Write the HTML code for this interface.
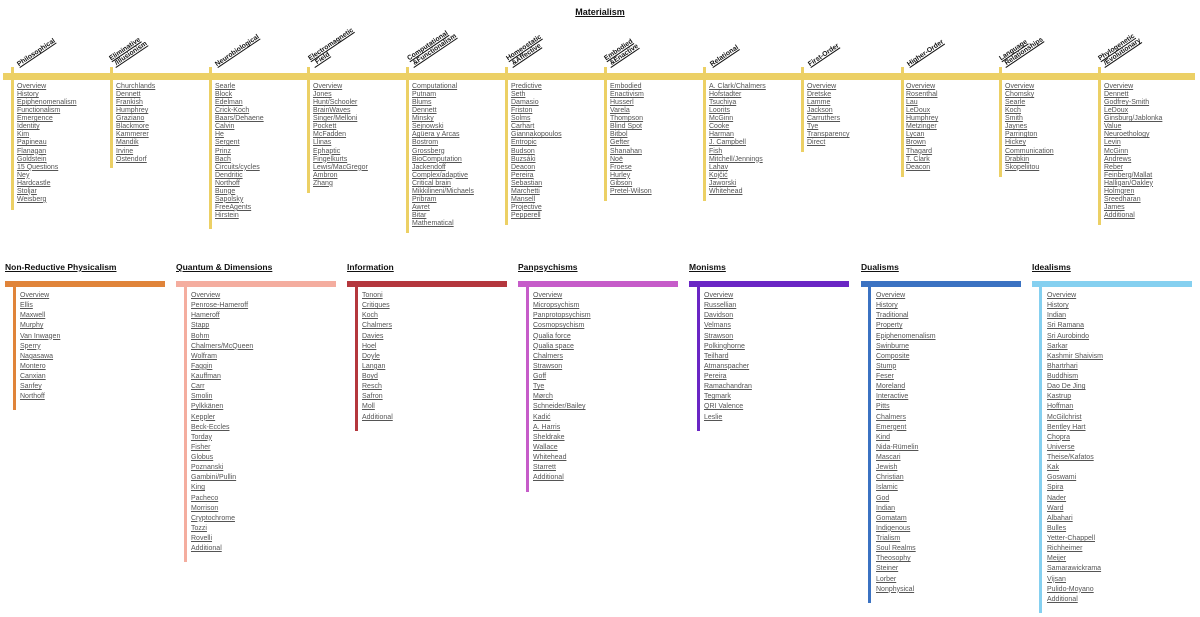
<!DOCTYPE html>
<html><head><meta charset="utf-8"><style>
body{margin:0;width:1200px;height:617px;background:#fff;position:relative;overflow:hidden;font-family:"Liberation Sans",Arial,sans-serif}
.t{position:absolute;left:0;width:1200px;top:7px;text-align:center;font-size:9px;font-weight:bold;text-decoration:underline;color:#111}
.ybar{position:absolute;left:3px;width:1192px;top:73px;height:7px;background:#ecd065}
.vl{position:absolute;width:3px}
.tl{position:absolute;margin:0;padding:0;list-style:none;font-size:7px;line-height:8.07px;color:#555;white-space:nowrap}
.tl li,.bl li{text-decoration:underline}
.bl{position:absolute;margin:0;padding:0;list-style:none;font-size:7px;line-height:10.13px;color:#555;white-space:nowrap}
.h{position:absolute;bottom:549px;transform-origin:0 100%;transform:rotate(-34deg);font-size:6.8px;line-height:7px;font-weight:bold;color:#111;text-decoration:underline;white-space:nowrap}
.bh{position:absolute;top:262px;font-size:8.5px;font-weight:bold;color:#111;text-decoration:underline;white-space:nowrap}
.bb{position:absolute;top:281px;width:160px;height:6px}
</style></head><body>
<div class="t">Materialism</div>
<div class="ybar"></div>

<div class="vl" style="left:11px;top:67px;height:143px;background:#ecd065"></div>
<div class="h" style="left:20px">Philosophical</div>
<ul class="tl" style="left:17px;top:83px"><li>Overview</li><li>History</li><li>Epiphenomenalism</li><li>Functionalism</li><li>Emergence</li><li>Identity</li><li>Kim</li><li>Papineau</li><li>Flanagan</li><li>Goldstein</li><li>15 Questions</li><li>Ney</li><li>Hardcastle</li><li>Stoljar</li><li>Weisberg</li></ul>

<div class="vl" style="left:110px;top:67px;height:101px;background:#ecd065"></div>
<div class="h" style="left:116px">Eliminative<br>&nbsp;/Illusionism</div>
<ul class="tl" style="left:116px;top:83px"><li>Churchlands</li><li>Dennett</li><li>Frankish</li><li>Humphrey</li><li>Graziano</li><li>Blackmore</li><li>Kammerer</li><li>Mandik</li><li>Irvine</li><li>Ostendorf</li></ul>

<div class="vl" style="left:209px;top:67px;height:162px;background:#ecd065"></div>
<div class="h" style="left:218px">Neurobiological</div>
<ul class="tl" style="left:215px;top:83px"><li>Searle</li><li>Block</li><li>Edelman</li><li>Crick-Koch</li><li>Baars/Dehaene</li><li>Calvin</li><li>He</li><li>Sergent</li><li>Prinz</li><li>Bach</li><li>Circuits/cycles</li><li>Dendritic</li><li>Northoff</li><li>Bunge</li><li>Sapolsky</li><li>FreeAgents</li><li>Hirstein</li></ul>

<div class="vl" style="left:307px;top:67px;height:126px;background:#ecd065"></div>
<div class="h" style="left:315px">Electromagnetic<br>&nbsp;&nbsp;Field</div>
<ul class="tl" style="left:313px;top:83px"><li>Overview</li><li>Jones</li><li>Hunt/Schooler</li><li>BrainWaves</li><li>Singer/Melloni</li><li>Pockett</li><li>McFadden</li><li>Llinas</li><li>Ephaptic</li><li>Fingelkurts</li><li>Lewis/MacGregor</li><li>Ambron</li><li>Zhang</li></ul>

<div class="vl" style="left:406px;top:67px;height:166px;background:#ecd065"></div>
<div class="h" style="left:414px">Computational<br>&nbsp;&amp;Functionalism</div>
<ul class="tl" style="left:412px;top:83px"><li>Computational</li><li>Putnam</li><li>Blums</li><li>Dennett</li><li>Minsky</li><li>Sejnowski</li><li>Agüera y Arcas</li><li>Bostrom</li><li>Grossberg</li><li>BioComputation</li><li>Jackendoff</li><li>Complex/adaptive</li><li>Critical brain</li><li>Mikkilineni/Michaels</li><li>Pribram</li><li>Awret</li><li>Bitar</li><li>Mathematical</li></ul>

<div class="vl" style="left:505px;top:67px;height:158px;background:#ecd065"></div>
<div class="h" style="left:513px">Homeostatic<br>&nbsp;&amp;Affective</div>
<ul class="tl" style="left:511px;top:83px"><li>Predictive</li><li>Seth</li><li>Damasio</li><li>Friston</li><li>Solms</li><li>Carhart</li><li>Giannakopoulos</li><li>Entropic</li><li>Budson</li><li>Buzsáki</li><li>Deacon</li><li>Pereira</li><li>Sebastian</li><li>Marchetti</li><li>Mansell</li><li>Projective</li><li>Pepperell</li></ul>

<div class="vl" style="left:604px;top:67px;height:134px;background:#ecd065"></div>
<div class="h" style="left:611px">Embodied<br>&nbsp;&amp;Enactive</div>
<ul class="tl" style="left:610px;top:83px"><li>Embodied</li><li>Enactivism</li><li>Husserl</li><li>Varela</li><li>Thompson</li><li>Blind Spot</li><li>Bitbol</li><li>Gefter</li><li>Shanahan</li><li>Noë</li><li>Froese</li><li>Hurley</li><li>Gibson</li><li>Pretel-Wilson</li></ul>

<div class="vl" style="left:703px;top:67px;height:134px;background:#ecd065"></div>
<div class="h" style="left:713px">Relational</div>
<ul class="tl" style="left:709px;top:83px"><li>A. Clark/Chalmers</li><li>Hofstadter</li><li>Tsuchiya</li><li>Loorits</li><li>McGinn</li><li>Cooke</li><li>Harman</li><li>J. Campbell</li><li>Fish</li><li>Mitchell/Jennings</li><li>Lahav</li><li>Kojčić</li><li>Jaworski</li><li>Whitehead</li></ul>

<div class="vl" style="left:801px;top:67px;height:85px;background:#ecd065"></div>
<div class="h" style="left:811px">First-Order</div>
<ul class="tl" style="left:807px;top:83px"><li>Overview</li><li>Dretske</li><li>Lamme</li><li>Jackson</li><li>Carruthers</li><li>Tye</li><li>Transparency</li><li>Direct</li></ul>

<div class="vl" style="left:901px;top:67px;height:110px;background:#ecd065"></div>
<div class="h" style="left:910px">Higher-Order</div>
<ul class="tl" style="left:906px;top:83px"><li>Overview</li><li>Rosenthal</li><li>Lau</li><li>LeDoux</li><li>Humphrey</li><li>Metzinger</li><li>Lycan</li><li>Brown</li><li>Thagard</li><li>T. Clark</li><li>Deacon</li></ul>

<div class="vl" style="left:999px;top:67px;height:110px;background:#ecd065"></div>
<div class="h" style="left:1006px">Language<br>&nbsp;Relationships</div>
<ul class="tl" style="left:1005px;top:83px"><li>Overview</li><li>Chomsky</li><li>Searle</li><li>Koch</li><li>Smith</li><li>Jaynes</li><li>Parrington</li><li>Hickey</li><li>Communication</li><li>Drabkin</li><li>Skopeliitou</li></ul>

<div class="vl" style="left:1098px;top:67px;height:158px;background:#ecd065"></div>
<div class="h" style="left:1105px">Phylogenetic<br>&nbsp;/Evolutionary</div>
<ul class="tl" style="left:1104px;top:83px"><li>Overview</li><li>Dennett</li><li>Godfrey-Smith</li><li>LeDoux</li><li>Ginsburg/Jablonka</li><li>Value</li><li>Neuroethology</li><li>Levin</li><li>McGinn</li><li>Andrews</li><li>Reber</li><li>Feinberg/Mallat</li><li>Halligan/Oakley</li><li>Holmgren</li><li>Sreedharan</li><li>James</li><li>Additional</li></ul>

<div class="bh" style="left:5px">Non-Reductive Physicalism</div>
<div class="bb" style="left:5px;background:#e0843a"></div>
<div class="vl" style="left:13px;top:287px;height:123px;background:#e0843a"></div>
<ul class="bl" style="left:20px;top:291px"><li>Overview</li><li>Ellis</li><li>Maxwell</li><li>Murphy</li><li>Van Inwagen</li><li>Sperry</li><li>Nagasawa</li><li>Montero</li><li>Canxian</li><li>Sanfey</li><li>Northoff</li></ul>

<div class="bh" style="left:176px">Quantum &amp; Dimensions</div>
<div class="bb" style="left:176px;background:#f4ad9f"></div>
<div class="vl" style="left:184px;top:287px;height:275px;background:#f4ad9f"></div>
<ul class="bl" style="left:191px;top:291px"><li>Overview</li><li>Penrose-Hameroff</li><li>Hameroff</li><li>Stapp</li><li>Bohm</li><li>Chalmers/McQueen</li><li>Wolfram</li><li>Faggin</li><li>Kauffman</li><li>Carr</li><li>Smolin</li><li>Pylkkänen</li><li>Keppler</li><li>Beck-Eccles</li><li>Torday</li><li>Fisher</li><li>Globus</li><li>Poznanski</li><li>Gambini/Pullin</li><li>King</li><li>Pacheco</li><li>Morrison</li><li>Cryptochrome</li><li>Tozzi</li><li>Rovelli</li><li>Additional</li></ul>

<div class="bh" style="left:347px">Information</div>
<div class="bb" style="left:347px;background:#b4373d"></div>
<div class="vl" style="left:355px;top:287px;height:144px;background:#b4373d"></div>
<ul class="bl" style="left:362px;top:291px"><li>Tononi</li><li>Critiques</li><li>Koch</li><li>Chalmers</li><li>Davies</li><li>Hoel</li><li>Doyle</li><li>Langan</li><li>Boyd</li><li>Resch</li><li>Safron</li><li>Moll</li><li>Additional</li></ul>

<div class="bh" style="left:518px">Panpsychisms</div>
<div class="bb" style="left:518px;background:#c65cc9"></div>
<div class="vl" style="left:526px;top:287px;height:205px;background:#c65cc9"></div>
<ul class="bl" style="left:533px;top:291px"><li>Overview</li><li>Micropsychism</li><li>Panprotopsychism</li><li>Cosmopsychism</li><li>Qualia force</li><li>Qualia space</li><li>Chalmers</li><li>Strawson</li><li>Goff</li><li>Tye</li><li>Mørch</li><li>Schneider/Bailey</li><li>Kadić</li><li>A. Harris</li><li>Sheldrake</li><li>Wallace</li><li>Whitehead</li><li>Starrett</li><li>Additional</li></ul>

<div class="bh" style="left:689px">Monisms</div>
<div class="bb" style="left:689px;background:#6a26c4"></div>
<div class="vl" style="left:697px;top:287px;height:144px;background:#6a26c4"></div>
<ul class="bl" style="left:704px;top:291px"><li>Overview</li><li>Russellian</li><li>Davidson</li><li>Velmans</li><li>Strawson</li><li>Polkinghorne</li><li>Teilhard</li><li>Atmanspacher</li><li>Pereira</li><li>Ramachandran</li><li>Tegmark</li><li>QRI Valence</li><li>Leslie</li></ul>

<div class="bh" style="left:861px">Dualisms</div>
<div class="bb" style="left:861px;background:#3b72c2"></div>
<div class="vl" style="left:868px;top:287px;height:316px;background:#3b72c2"></div>
<ul class="bl" style="left:876px;top:291px"><li>Overview</li><li>History</li><li>Traditional</li><li>Property</li><li>Epiphenomenalism</li><li>Swinburne</li><li>Composite</li><li>Stump</li><li>Feser</li><li>Moreland</li><li>Interactive</li><li>Pitts</li><li>Chalmers</li><li>Emergent</li><li>Kind</li><li>Nida-Rümelin</li><li>Mascari</li><li>Jewish</li><li>Christian</li><li>Islamic</li><li>God</li><li>Indian</li><li>Gomatam</li><li>Indigenous</li><li>Trialism</li><li>Soul Realms</li><li>Theosophy</li><li>Steiner</li><li>Lorber</li><li>Nonphysical</li></ul>

<div class="bh" style="left:1032px">Idealisms</div>
<div class="bb" style="left:1032px;background:#85d0f0"></div>
<div class="vl" style="left:1039px;top:287px;height:326px;background:#85d0f0"></div>
<ul class="bl" style="left:1047px;top:291px"><li>Overview</li><li>History</li><li>Indian</li><li>Sri Ramana</li><li>Sri Aurobindo</li><li>Sarkar</li><li>Kashmir Shaivism</li><li>Bhartrhari</li><li>Buddhism</li><li>Dao De Jing</li><li>Kastrup</li><li>Hoffman</li><li>McGilchrist</li><li>Bentley Hart</li><li>Chopra</li><li>Universe</li><li>Theise/Kafatos</li><li>Kak</li><li>Goswami</li><li>Spira</li><li>Nader</li><li>Ward</li><li>Albahari</li><li>Bulles</li><li>Yetter-Chappell</li><li>Richheimer</li><li>Meijer</li><li>Samarawickrama</li><li>Vijsan</li><li>Pulido-Moyano</li><li>Additional</li></ul>
</body></html>
